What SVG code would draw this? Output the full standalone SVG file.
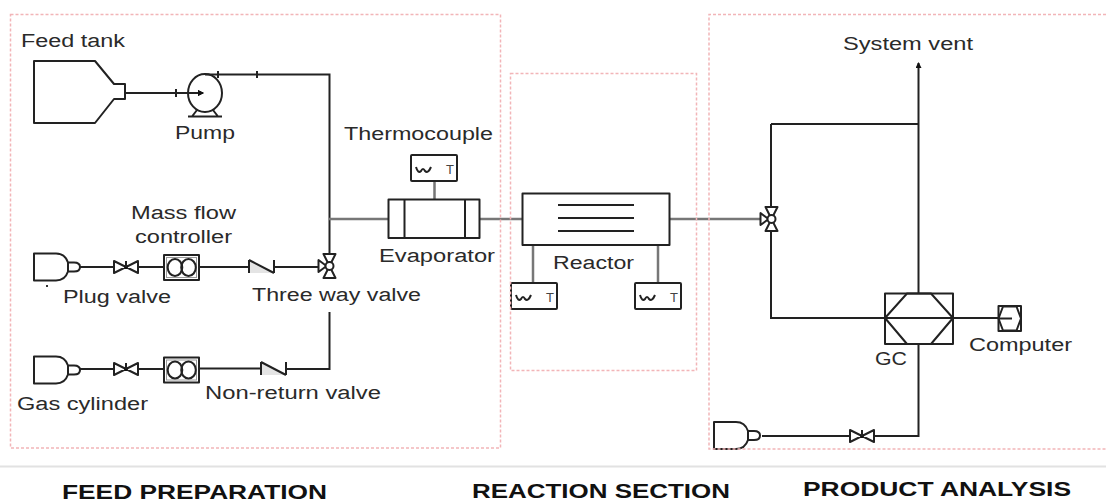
<svg xmlns="http://www.w3.org/2000/svg" width="1106" height="504" viewBox="0 0 1106 504">
<style>
text{font-family:"Liberation Sans",Arial,sans-serif;font-size:18px;fill:#2a2a2a}
.h{font-size:21px;fill:#111;font-weight:bold}
.s{fill:none;stroke:#222;stroke-width:2;stroke-linejoin:round}
.w{fill:#fff;stroke:#222;stroke-width:2;stroke-linejoin:round}
.c{fill:none;stroke:#222;stroke-width:2}
.g{fill:none;stroke:#777;stroke-width:2.500}
.f{fill:none;stroke:#f2b5b8;stroke-width:1.500;stroke-dasharray:3 2}
.t{font-size:13px;fill:#444}
.th{fill:none;stroke:#999;stroke-width:1}
</style>
<defs>
<marker id="arrow" markerUnits="userSpaceOnUse" markerWidth="7" markerHeight="7" refX="5" refY="3" orient="auto"><path d="M0,0L6,3L0,6z" fill="#111"/></marker>
<g id="valve"><path class="w" d="M-12,-6L12,6V-6L-12,6z"/><circle r="2" fill="#111"/><path class="s" d="M0,0V-6"/></g>
<g id="three"><path class="w" d="M-6,-12H6L-6,12H6z"/><path class="w" d="M-11,-6V6L-3,0z"/><circle r="4" class="w"/></g>
<g id="cyl"><path class="w" d="M0,0H22Q31,0 34,9H40Q46,9 46,13.500Q46,18 40,18H34Q31,27 22,27H0z"/><path class="s" d="M34,9V18"/></g>
<g id="mfc"><rect class="w" x="0" y="0" width="35" height="25"/><rect class="th" x="2.500" y="2.500" width="30" height="20"/><ellipse class="s" cx="11" cy="12.500" rx="7.300" ry="8.500"/><ellipse class="s" cx="24.500" cy="12.500" rx="7.300" ry="8.500"/></g>
<g id="check"><path fill="#e4e4e4" d="M0,0L25,13H0z"/><path class="s" d="M0,0V13M0,0L25,13M25,0V13"/></g>
<g id="tc"><rect class="w" x="0" y="0" width="46" height="26" rx="1"/><path class="s" d="M5,12Q7,19 10,16Q12,12 14,16Q17,19 20,12"/><text class="t" x="35" y="19">T</text></g>
</defs>
<g id="connectors">
<path class="c" d="M125,93H203" marker-end="url(#arrow)"/>
<path class="c" d="M176,89V97"/>
<path class="c" d="M205,74.500H329.500V254"/>
<path class="c" d="M218,71V78M257,71V78"/>
<path class="c" d="M329.500,312V369H286M260,368.500H199"/>
<path class="c" d="M80,267H114M138,267H164M199,267H248M274,267H318"/>
<path class="c" d="M80,369H114M138,369H164"/>
<path class="g" d="M329,219H388M480,219H522M669,219H760"/>
<path class="g" d="M434.500,180V199M533,245V283M658,245V283"/>
<path class="c" d="M771,124V207M771,231V318H885M771,124H918.500"/>
<path class="c" d="M918.500,293V63" marker-end="url(#arrow)"/>
<path class="c" d="M953,318H998M918.500,344V436H874M850,436H762"/>
</g>
<g id="feed-tank"><path class="s" d="M34,61H95L114,84H125V99H114L95,123H34z"/><text x="21" y="47" textLength="104" lengthAdjust="spacingAndGlyphs">Feed tank</text></g>
<g id="pump"><ellipse class="s" cx="205" cy="93" rx="17" ry="19"/><path class="c" d="M185,93H203" marker-end="url(#arrow)"/><path class="s" d="M188,116.500H222M192,116.500L197,110M218,116.500L213,110"/><text x="175" y="139" textLength="60" lengthAdjust="spacingAndGlyphs">Pump</text></g>
<g id="cylinder-1"><use href="#cyl" x="34" y="253.500"/><rect x="46" y="285" width="2" height="2" fill="#333"/></g>
<g id="plug-valve"><use href="#valve" x="126" y="267"/><text x="63" y="303" textLength="108" lengthAdjust="spacingAndGlyphs">Plug valve</text></g>
<g id="mfc-1"><use href="#mfc" x="164" y="255"/><text x="131" y="219" textLength="105" lengthAdjust="spacingAndGlyphs">Mass flow</text><text x="135" y="243" textLength="97" lengthAdjust="spacingAndGlyphs">controller</text></g>
<g id="check-1"><use href="#check" x="249" y="260"/></g>
<g id="three-way-1"><use href="#three" x="329.500" y="266"/><text x="252" y="301" textLength="169" lengthAdjust="spacingAndGlyphs">Three way valve</text></g>
<g id="gas-cylinder"><use href="#cyl" x="34" y="356.500"/><text x="17" y="410" textLength="131" lengthAdjust="spacingAndGlyphs">Gas cylinder</text></g>
<g id="valve-2"><use href="#valve" x="126" y="369"/></g>
<g id="mfc-2"><use href="#mfc" x="164" y="357.500"/></g>
<g id="non-return"><use href="#check" x="261" y="362"/><text x="205" y="399" textLength="176" lengthAdjust="spacingAndGlyphs">Non-return valve</text></g>
<g id="thermocouple"><use href="#tc" x="411" y="155"/><text x="344" y="140" textLength="149" lengthAdjust="spacingAndGlyphs">Thermocouple</text></g>
<g id="evaporator"><rect class="s" x="388.500" y="199.500" width="91" height="38.500"/><path class="s" d="M404.500,199.500V238M465,199.500V238"/><text x="379" y="262" textLength="116" lengthAdjust="spacingAndGlyphs">Evaporator</text></g>
<g id="reactor"><rect class="s" x="522.500" y="193.500" width="147" height="51.500"/><path class="s" d="M558,205H634M558,218H634M558,231H634"/><text x="553" y="269" textLength="81" lengthAdjust="spacingAndGlyphs">Reactor</text></g>
<g id="tc-left"><use href="#tc" x="511" y="283"/></g>
<g id="tc-right"><use href="#tc" x="635" y="283"/></g>
<g id="three-way-2"><use href="#three" x="771.500" y="219"/></g>
<g id="system-vent"><text x="843" y="50" textLength="130" lengthAdjust="spacingAndGlyphs">System vent</text></g>
<g id="gc"><rect class="s" x="885" y="293.500" width="68" height="50.500"/><path class="s" d="M885,318L907,293.500H931L953,318L931,344H907z"/><path class="c" d="M885,318H953"/><text x="875" y="365" textLength="32" lengthAdjust="spacingAndGlyphs">GC</text></g>
<g id="computer"><rect class="s" x="998.500" y="306" width="22.500" height="25"/><path class="s" d="M998.500,318.500L1003,306.500H1016.500L1021,318.500L1016.500,330.500H1003z"/><path class="c" d="M998.500,318.500H1012"/><text x="969" y="351" textLength="103" lengthAdjust="spacingAndGlyphs">Computer</text></g>
<g id="carrier-cylinder"><use href="#cyl" x="714" y="422"/></g>
<g id="valve-3"><use href="#valve" x="862" y="436"/></g>
<rect class="f" x="10.500" y="14.500" width="490" height="433.500"/>
<rect class="f" x="510.500" y="73.500" width="186" height="297"/>
<path class="f" d="M1106,14.500H709V449H1106"/>
<path d="M0,466.500H1106" stroke="#e2e2e2" stroke-width="2" fill="none"/>
<text class="h" x="62" y="499" textLength="265" lengthAdjust="spacingAndGlyphs">FEED PREPARATION</text>
<text class="h" x="472" y="498" textLength="258" lengthAdjust="spacingAndGlyphs">REACTION SECTION</text>
<text class="h" x="803" y="496" textLength="268" lengthAdjust="spacingAndGlyphs">PRODUCT ANALYSIS</text>
</svg>
